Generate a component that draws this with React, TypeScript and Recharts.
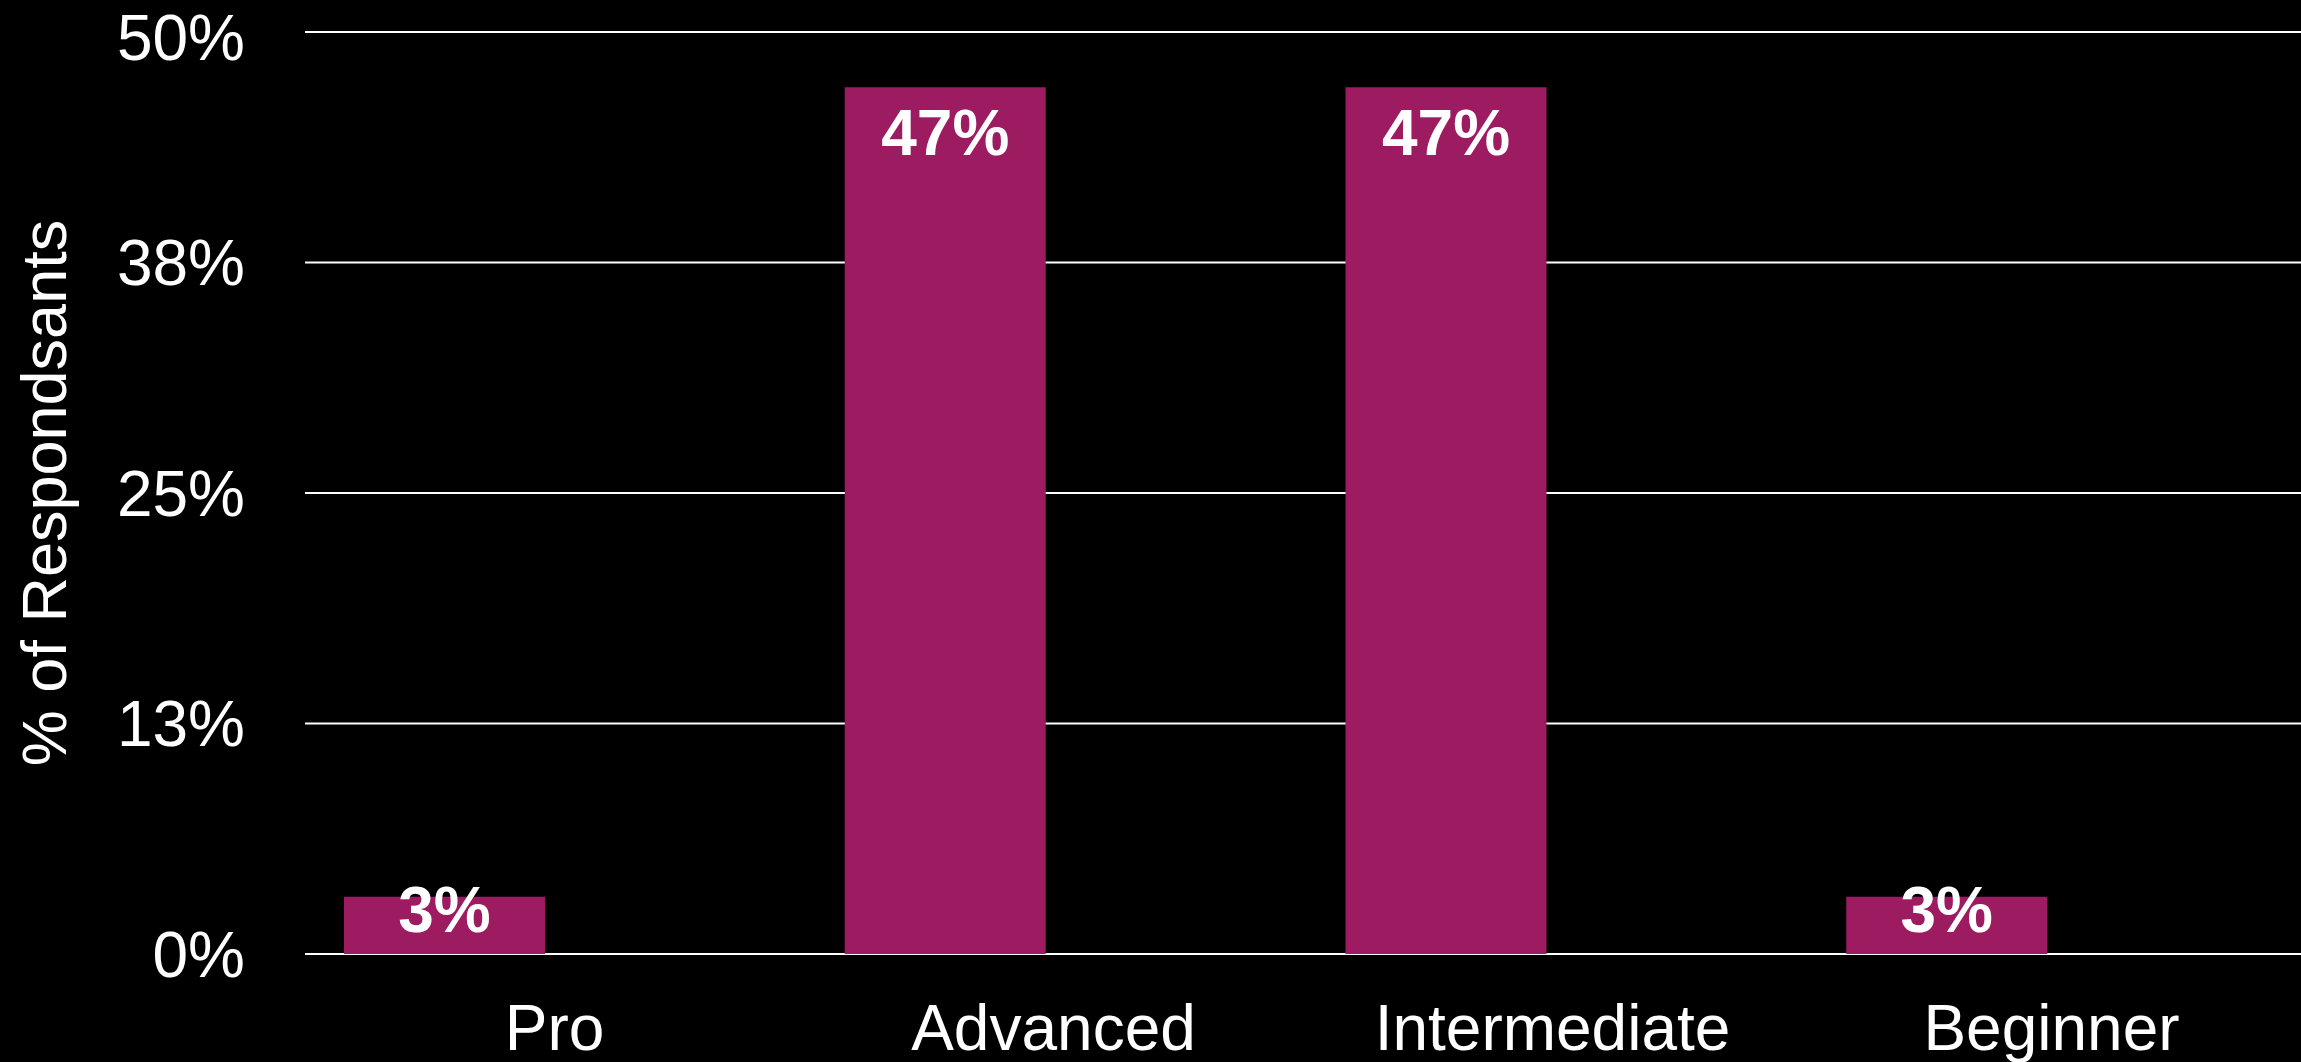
import { BarChart, Bar, XAxis, YAxis, CartesianGrid, LabelList } from "recharts";

const LEVELS = ["Pro", "Advanced", "Intermediate", "Beginner"];
const SHARE = [3.1, 47, 47, 3.1];
const Y_TICKS = [0, 12.5, 25, 37.5, 50];

const FONT = "'Liberation Sans', Arial, Helvetica, sans-serif";
const BAR_COLOR = "#9d1b60";

const data = LEVELS.map((name, i) => ({ name, share: SHARE[i] }));

const pct = (v: number) => `${Math.round(v)}%`;

// label sits near the top of the bar, but never lower than the bar's bottom allows
function BarValue(props: any) {
  const { x, y, width, height, value } = props;
  const baseline = Math.min(y + 68, y + height - 22);
  return (
    <text
      x={x + width / 2}
      y={baseline}
      textAnchor="middle"
      fill="#fff"
      fontSize={64}
      fontWeight="bold"
      fontFamily={FONT}
    >
      {pct(value)}
    </text>
  );
}

export default function App() {
  return (
    <div style={{ position: "absolute", left: 0, top: 0, width: 2301, height: 1062, background: "#000" }}>
      <BarChart
        width={2301}
        height={1062}
        data={data}
        margin={{ top: 32, right: 0, left: 0, bottom: 0 }}
      >
        <CartesianGrid vertical={false} stroke="#ffffff" strokeWidth={2} />
        {/* bars sit left of the tick centres, so they get their own hidden axis */}
        <XAxis dataKey="name" hide padding={{ left: -111, right: 104 }} />
        <XAxis
          xAxisId="ticks"
          dataKey="name"
          height={108}
          axisLine={false}
          tickLine={false}
          tickSize={0}
          tickMargin={21}
          interval={0}
          tick={{ fill: "#fff", fontSize: 64, fontFamily: FONT }}
        />
        <YAxis
          width={305}
          domain={[0, 50]}
          ticks={Y_TICKS}
          tickFormatter={pct}
          axisLine={false}
          tickLine={false}
          tickSize={0}
          tickMargin={60}
          tick={{ fill: "#fff", fontSize: 64, fontFamily: FONT }}
          label={{
            value: "% of Respondsants",
            angle: -90,
            position: "insideLeft",
            offset: 44,
            fill: "#fff",
            fontSize: 63,
            fontFamily: FONT,
            style: { textAnchor: "middle" },
          }}
        />
        <Bar dataKey="share" fill={BAR_COLOR} barSize={201} isAnimationActive={false}>
          <LabelList dataKey="share" content={BarValue} />
        </Bar>
      </BarChart>
    </div>
  );
}
